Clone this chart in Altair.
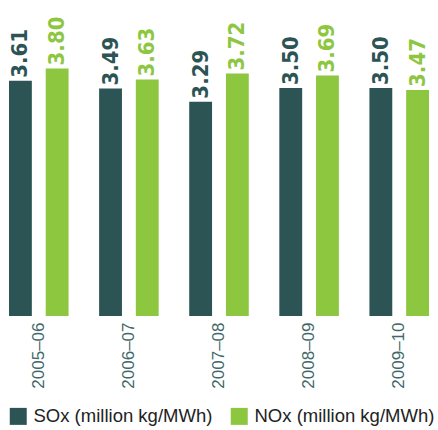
import altair as alt
import pandas as pd

years = ["2005–06", "2006–07", "2007–08", "2008–09", "2009–10"]
sox = [3.61, 3.49, 3.29, 3.50, 3.50]
nox = [3.80, 3.63, 3.72, 3.69, 3.47]
series = ["SOx (million kg/MWh)", "NOx (million kg/MWh)"]
colors = ["#2c5454", "#8dc63f"]

rows = []
for i, y in enumerate(years):
    rows.append({"year": y, "series": series[0], "value": sox[i], "label": f"{sox[i]:.2f}"})
    rows.append({"year": y, "series": series[1], "value": nox[i], "label": f"{nox[i]:.2f}"})
df = pd.DataFrame(rows)

x = alt.X("year:N", sort=years, title=None,
          scale=alt.Scale(paddingInner=0.339, paddingOuter=0.1),
          axis=alt.Axis(labelAngle=-90, labelFontSize=17, labelColor="#416868",
                        labelFont="Liberation Sans", labelPadding=6, ticks=False,
                        domain=False, labelAlign="right", labelBaseline="middle"))
xo = alt.XOffset("series:N", sort=series,
                 scale=alt.Scale(paddingInner=0.378, paddingOuter=0))
y = alt.Y("value:Q", scale=alt.Scale(domain=[0, 4.85], nice=False), axis=None)
color = alt.Color("series:N", sort=series,
                  scale=alt.Scale(domain=series, range=colors),
                  legend=alt.Legend(title=None, orient="none", legendX=9, legendY=407,
                                    direction="horizontal", symbolType="square",
                                    symbolSize=289, symbolStrokeWidth=0,
                                    labelFontSize=18.5, labelFont="Liberation Sans",
                                    labelColor="#222222", columnPadding=17,
                                    symbolOffset=0, labelOffset=6, labelLimit=300))

bars = alt.Chart(df).mark_bar().encode(x=x, xOffset=xo, y=y, color=color)

text = alt.Chart(df).mark_text(
    angle=270, align="left", baseline="middle", dx=3,
    font="DejaVu Sans Condensed", fontWeight="bold", fontSize=22,
).encode(
    x=alt.X("year:N", sort=years), xOffset=xo, y=y, text="label:N",
    angle=alt.value(270),
    color=alt.Color("series:N", sort=series, scale=alt.Scale(domain=series, range=colors), legend=None))

chart = alt.layer(bars, text).properties(
    width=438, height=316, background="white",
    autosize=alt.AutoSizeParams(type="none"),
    padding={"left": 0, "top": 0, "right": 0, "bottom": 114},
).configure_view(stroke=None)

chart.save("out.html", embed_options={"renderer": "svg", "actions": False})
